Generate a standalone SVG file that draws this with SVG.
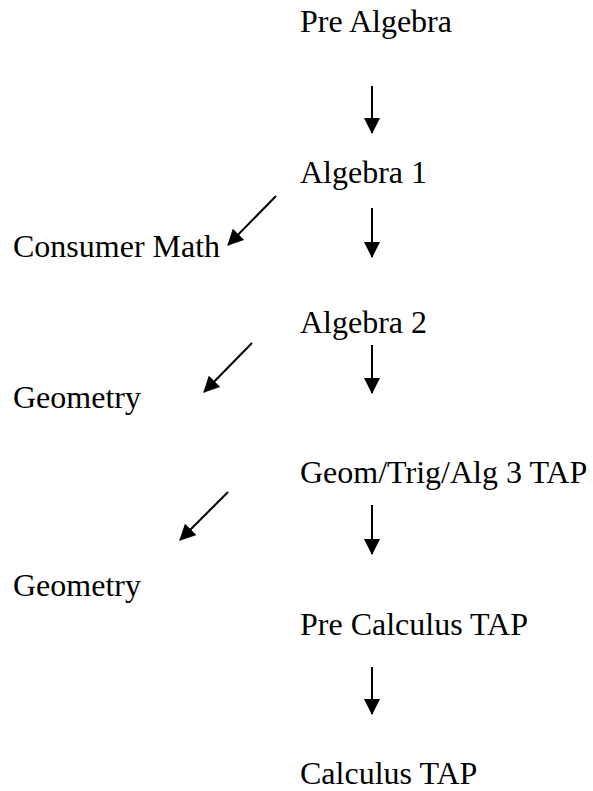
<svg xmlns="http://www.w3.org/2000/svg" width="593" height="791" viewBox="0 0 593 791">
<style>
text{font-family:"Liberation Serif","Times New Roman",serif;font-size:32px;fill:#000}
.c line{stroke:#000;stroke-width:2;marker-end:url(#ah)}
</style>
<defs>
<marker id="ah" markerUnits="userSpaceOnUse" markerWidth="16" markerHeight="16" refX="15" refY="8" orient="auto" viewBox="0 0 16 16">
<path d="M0,0 L16,8 L0,16 z" fill="#000"/>
</marker>
</defs>
<rect width="593" height="791" fill="#fff"/>
<g id="n-prealgebra"><text x="300" y="32">Pre Algebra</text></g>
<g id="n-algebra1"><text x="300" y="183">Algebra 1</text></g>
<g id="n-consumer"><text x="13" y="257">Consumer Math</text></g>
<g id="n-algebra2"><text x="300" y="333">Algebra 2</text></g>
<g id="n-geometry1"><text x="13" y="408">Geometry</text></g>
<g id="n-geomtrig"><text x="300" y="483">Geom/Trig/Alg 3 TAP</text></g>
<g id="n-geometry2"><text x="13" y="596">Geometry</text></g>
<g id="n-precalc"><text x="300" y="635">Pre Calculus TAP</text></g>
<g id="n-calc"><text x="300" y="784">Calculus TAP</text></g>
<g id="connectors" class="c">
<line x1="372" y1="86" x2="372" y2="133"/>
<line x1="276" y1="196" x2="228" y2="245"/>
<line x1="372" y1="208" x2="372" y2="257"/>
<line x1="252" y1="343" x2="204" y2="392"/>
<line x1="372" y1="345" x2="372" y2="393"/>
<line x1="228" y1="492" x2="180" y2="540"/>
<line x1="372" y1="505" x2="372" y2="554"/>
<line x1="372" y1="667" x2="372" y2="714"/>
</g>
</svg>
